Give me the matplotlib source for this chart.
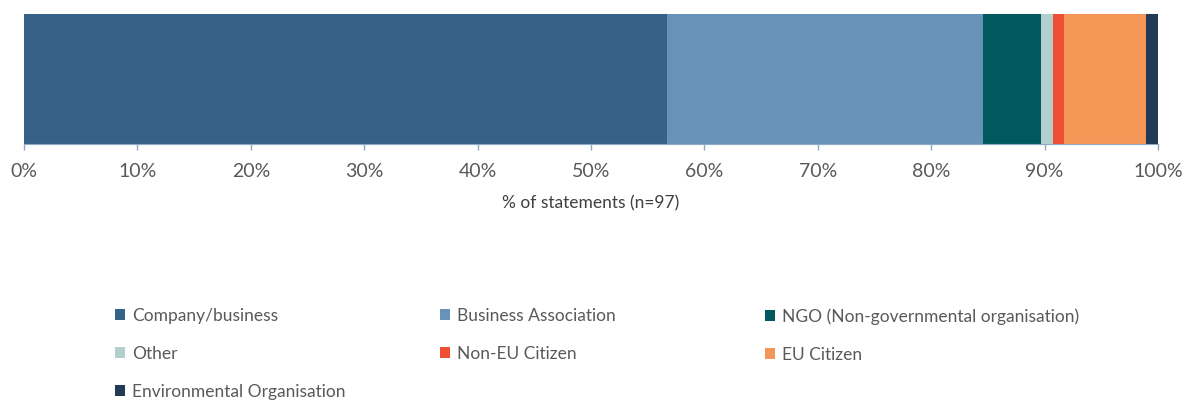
import matplotlib
matplotlib.use("Agg")
import matplotlib.pyplot as plt
from matplotlib.patches import Patch
from matplotlib.ticker import PercentFormatter

plt.rcParams['font.family'] = ['Lato', 'DejaVu Sans']

# statement counts per stakeholder type (n=97)
groups = ["Company/business", "Business Association",
          "NGO (Non-governmental organisation)", "Other", "Non-EU Citizen",
          "EU Citizen", "Environmental Organisation"]
counts = [55, 27, 5, 1, 1, 7, 1]
colours = ["#376288", "#6893B8", "#02585F", "#B3D0CF", "#EE4F33",
           "#F39656", "#213A55"]
n_total = sum(counts)
shares = [100.0 * c / n_total for c in counts]

fig = plt.figure(figsize=(11.85, 4.01), dpi=100)
ax = fig.add_axes([24 / 1185, 1 - 144 / 401, (1158 - 24) / 1185, 130 / 401])

left = 0.0
for g, s, c in zip(groups, shares, colours):
    ax.barh(0, s, left=left, height=1.0, color=c, label=g, linewidth=0)
    left += s

ax.set_xlim(0, 100)
ax.set_ylim(-0.5, 0.5)
ax.set_yticks([])
ax.set_xticks(range(0, 101, 10))
ax.xaxis.set_major_formatter(PercentFormatter(decimals=0))
for side in ["top", "right", "left"]:
    ax.spines[side].set_visible(False)
ax.spines["bottom"].set_color("#8EA9C1")
ax.tick_params(axis="x", colors="#8EA9C1", length=4, width=1,
               labelcolor="#595959", labelsize=14, pad=10)
ax.set_xlabel("% of statements (n=97)", fontsize=12.5, color="#404040",
              labelpad=11)

# legend laid out row by row in three fixed columns
cols = [[0, 3, 6], [1, 4], [2, 5]]
col_x = [115, 440, 765]
for idx, x in zip(cols, col_x):
    handles = [Patch(facecolor=colours[i], edgecolor="none", label=groups[i])
               for i in idx]
    fig.legend(handles=handles, loc="upper left",
               bbox_to_anchor=(x / 1185, 1 - 308 / 401), frameon=False,
               fontsize=12.5, handlelength=0.6, handleheight=0.6,
               handletextpad=0.4, labelspacing=1.27, labelcolor="#595959",
               borderaxespad=0, borderpad=0)

fig.savefig("out.png", dpi=100, facecolor="white")
